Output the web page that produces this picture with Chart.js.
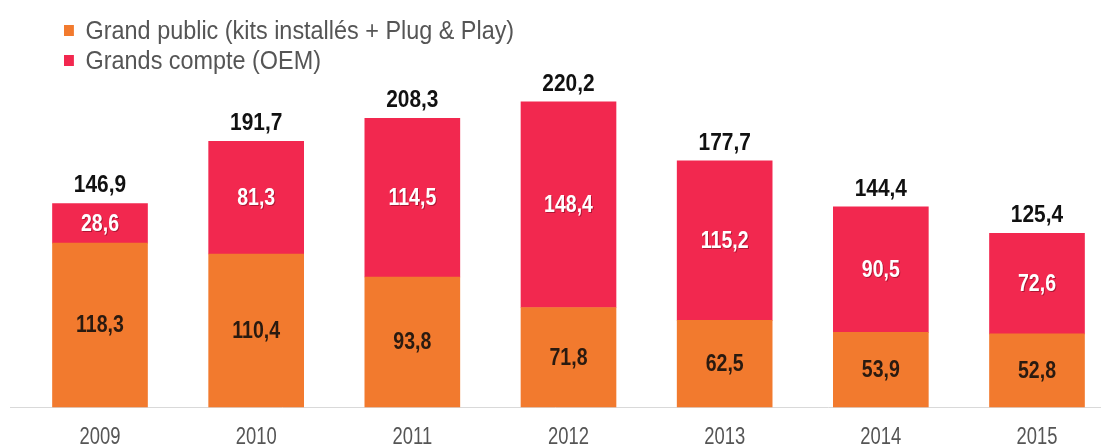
<!DOCTYPE html>
<html>
<head>
<meta charset="utf-8">
<script src="https://cdn.jsdelivr.net/npm/chart.js@4/dist/chart.umd.min.js"></script>
<style>
  body { margin: 0; background: #fff; }
  #wrap { position: relative; width: 1101px; height: 448px; }
  #legend { position: absolute; left: 64px; top: 15px; font-family: "Liberation Sans", Arial, sans-serif; font-size: 26px; color: #555555; line-height: 30px; transform: scaleX(0.9); transform-origin: left top; white-space: nowrap; }
  #legend span.box { display: inline-block; width: 11px; height: 11px; margin-right: 13px; vertical-align: 3px; }
</style>
</head>
<body>
<div id="wrap">
  <canvas id="chart" width="1101" height="448"></canvas>
  <div id="legend"></div>
</div>
<script>
const years = ['2009', '2010', '2011', '2012', '2013', '2014', '2015'];
const grandPublic = [118.3, 110.4, 93.8, 71.8, 62.5, 53.9, 52.8];
const grandsComptes = [28.6, 81.3, 114.5, 148.4, 115.2, 90.5, 72.6];
const totals = [146.9, 191.7, 208.3, 220.2, 177.7, 144.4, 125.4];
const seriesNames = ['Grand public (kits installés + Plug & Play)', 'Grands compte (OEM)'];

const orange = '#F27A2E';
const red = '#F2284F';
const font = '"Liberation Sans", Arial, sans-serif';

function fr(v) {
    return v.toFixed(1).replace('.', ',');
}

// squeezed text, the source uses a condensed face
function squeezed(ctx, text, x, y, sx) {
    ctx.save();
    ctx.translate(x, y);
    ctx.scale(sx, 1);
    ctx.fillText(text, 0, 0);
    ctx.restore();
}

// legend as plain html
const legend = document.getElementById('legend');
[orange, red].forEach(function(c, i) {
    const row = document.createElement('div');
    row.innerHTML = '<span class="box" style="background:' + c + '"></span>' + seriesNames[i];
    legend.appendChild(row);
});

const barLabels = {
    id: 'barLabels',
    beforeDatasetsDraw(chart) {
        const ctx = chart.ctx;
        const y = chart.chartArea.bottom + 0.5;
        ctx.save();
        ctx.strokeStyle = '#d9d9d9';
        ctx.lineWidth = 1;
        ctx.beginPath();
        ctx.moveTo(10, y);
        ctx.lineTo(1101, y);
        ctx.stroke();
        // year labels under the axis
        const xs = chart.scales.x;
        ctx.font = '23px ' + font;
        ctx.fillStyle = '#555555';
        ctx.textAlign = 'center';
        ctx.textBaseline = 'middle';
        chart.data.labels.forEach(function(lab, i) {
            squeezed(ctx, lab, xs.getPixelForTick(i), 438, 0.8);
        });
        ctx.restore();
    },
    afterDatasetsDraw(chart) {
        const ctx = chart.ctx;
        ctx.save();
        ctx.textAlign = 'center';
        ctx.textBaseline = 'middle';
        ctx.font = 'bold 23px ' + font;
        chart.data.datasets.forEach(function(ds, di) {
            const meta = chart.getDatasetMeta(di);
            meta.data.forEach(function(el, i) {
                const mid = (el.y + el.base) / 2 + 1;
                if (di === 1) {
                    ctx.fillStyle = 'rgba(90,0,20,0.45)';
                    squeezed(ctx, fr(ds.data[i]), el.x + 1, mid + 1, 0.85);
                    ctx.fillStyle = '#ffffff';
                } else {
                    ctx.fillStyle = '#2a1a10';
                }
                squeezed(ctx, fr(ds.data[i]), el.x, mid, 0.85);
            });
        });
        const top = chart.getDatasetMeta(1);
        ctx.font = 'bold 24px ' + font;
        ctx.fillStyle = '#111111';
        ctx.textBaseline = 'alphabetic';
        top.data.forEach(function(el, i) {
            squeezed(ctx, fr(totals[i]), el.x, el.y - 11, 0.87);
        });
        ctx.restore();
    }
};

new Chart(document.getElementById('chart'), {
    type: 'bar',
    data: {
        labels: years,
        datasets: [{
            label: seriesNames[0],
            data: grandPublic,
            backgroundColor: orange,
            barThickness: 95,
            clip: false
        }, {
            label: seriesNames[1],
            data: grandsComptes,
            backgroundColor: red,
            barThickness: 95,
            clip: false
        }]
    },
    options: {
        responsive: false,
        animation: false,
        layout: {
            padding: { left: 100, right: 64, top: 80, bottom: 0 }
        },
        scales: {
            x: {
                stacked: true,
                offset: false,
                grid: { display: false },
                border: { display: false },
                ticks: { display: false },
                afterFit(scale) {
                    scale.height = 41;
                }
            },
            y: {
                stacked: true,
                display: false,
                min: 0,
                max: 236
            }
        },
        plugins: {
            legend: { display: false },
            tooltip: { enabled: false }
        }
    },
    plugins: [barLabels]
});
</script>
</body>
</html>
